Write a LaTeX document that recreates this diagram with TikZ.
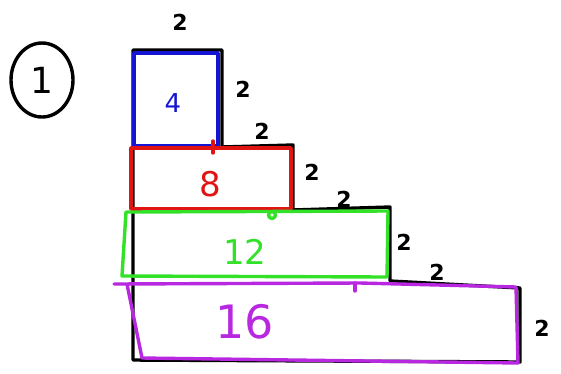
\documentclass[tikz,border=0pt]{standalone}
\usepackage{fontspec}
\setmainfont{DejaVu Sans}
\definecolor{penblue}{RGB}{20,20,210}
\definecolor{penred}{RGB}{225,20,20}
\definecolor{pengreen}{RGB}{50,225,40}
\definecolor{penpurple}{RGB}{185,40,225}
\begin{document}
\begin{tikzpicture}[
			x=1pt, y=-1pt,
			pen/.style={line width=3.4pt, line join=round, line cap=round},
			side/.style={font=\bfseries\fontsize{22}{22}\selectfont},
			area/.style={font=\fontsize{34}{34}\selectfont}
		]
		\useasboundingbox (0,0) rectangle (561,373);

		% the number in its ring
		\draw[pen] (42,80) ellipse (31 and 37);
		\node[font=\fontsize{36}{36}\selectfont] (num) at (42,80) {1};

		% black staircase
		\draw[pen] (133,50) -- (222,50) -- (222,147) -- (293,145) -- (293,210)
			-- (390,207) -- (390,281) -- (520,288) -- (520,362) -- (133,360) -- cycle;

		% coloured pieces
		\draw[pen, penblue] (134,53) rectangle (218,146);
		\draw[pen, penred] (131,148) rectangle (291,209);
		\draw[pen, penred] (213,141) -- (213,153);
		\draw[pen, pengreen] (126,212) -- (388,211) -- (387,277) -- (122,276) -- cycle;
		\draw[pen, pengreen] (272,215) circle (3.5);
		\draw[pen, penpurple] (114,284) -- (360,283) -- (516,287) -- (518,363) -- (142,358) -- (127,284);
		\draw[pen, penpurple] (355,283) -- (355,291);

		% areas
		\node[area, penblue, font=\fontsize{26}{26}\selectfont] (four) at (173,103) {4};
		\node[area, penred] (eight) at (210,184) {8};
		\node[area, pengreen] (twelve) at (245,252) {12};
		\node[area, penpurple, font=\fontsize{46}{46}\selectfont] (sixteen) at (245,322) {16};

		% side lengths
		\node[side] (s1) at (180,22) {2};
		\node[side] (s2) at (243,89) {2};
		\node[side] (s3) at (262,131) {2};
		\node[side] (s4) at (312,172) {2};
		\node[side] (s5) at (344,199) {2};
		\node[side] (s6) at (404,242) {2};
		\node[side] (s7) at (437,272) {2};
		\node[side] (s8) at (542,328) {2};
	\end{tikzpicture}
\end{document}
